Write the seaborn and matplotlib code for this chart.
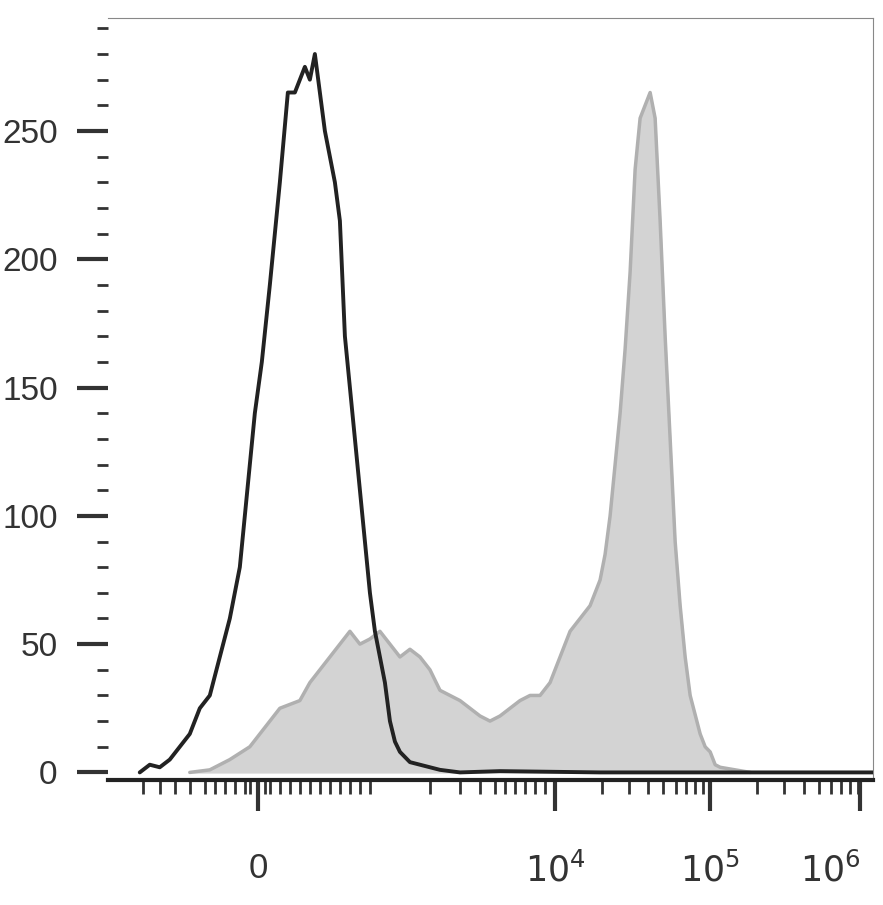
import matplotlib
matplotlib.use("Agg")
import matplotlib.pyplot as plt
import seaborn as sns
import numpy as np
import math

sns.set_style("white")
plt.rcParams['font.family'] = ['Liberation Sans', 'DejaVu Sans']

# x in display channel units (biexponential scale positions)
black_x = [140,150,160,170,180,190,200,210,220,230,240,245,250,255,262,270,275,280,288,295,300,305,310,315,320,325,330,335,340,345,350,355,360,365,370,375,380,385,390,395,400,410,420,430,440,460,500,600,873]
black_y = [0,3,2,5,10,15,25,30,45,60,80,100,120,140,160,190,210,230,265,265,270,275,270,280,265,250,240,230,215,170,150,130,110,90,70,55,45,35,20,12,8,4,3,2,1,0,0.5,0,0]
gray_x = [190,210,230,250,260,270,280,300,310,320,330,340,350,360,370,380,390,400,410,420,430,440,450,460,470,480,490,500,510,520,530,540,550,560,570,580,590,600,605,610,615,620,625,630,635,640,645,650,655,660,665,670,675,680,685,690,700,705,710,715,720,735,750]
gray_y = [0,1,5,10,15,20,25,28,35,40,45,50,55,50,52,55,50,45,48,45,40,32,30,28,25,22,20,22,25,28,30,30,35,45,55,60,65,75,85,100,120,140,165,195,235,255,260,265,255,215,170,130,90,65,45,30,15,10,8,3,2,1,0]

x_major_pos = [258, 555, 710, 860]
x_major_lab = ["0", "$10^4$", "$10^5$", "$10^6$"]
y_major = [0, 50, 100, 150, 200, 250]

fig = plt.figure(figsize=(8.83, 9.05), dpi=100)
ax = fig.add_axes([0.122, 0.138, 0.867, 0.842])

ax.fill_between(gray_x, gray_y, color="#d3d3d3", zorder=1)
sns.lineplot(x=gray_x, y=gray_y, ax=ax, color="#b0b0b0", lw=2.5, zorder=2)
sns.lineplot(x=black_x, y=black_y, ax=ax, color="#222222", lw=2.8, zorder=3)

ax.set_xlim(108, 873)
ax.set_ylim(-3, 294)
for s in ["top", "right"]:
    ax.spines[s].set_color("#888888"); ax.spines[s].set_linewidth(0.8)
ax.spines["left"].set_visible(False)
ax.spines["bottom"].set_color("#222222"); ax.spines["bottom"].set_linewidth(3)

ax.set_yticks(y_major)
ax.set_yticklabels([str(v) for v in y_major], fontsize=24, color="#333333")
ax.set_yticks(np.arange(0, 291, 10), minor=True)
ax.tick_params(axis="y", which="both", left=True)
ax.tick_params(axis="y", which="major", length=22, width=3, color="#333333", direction="out", pad=14)
ax.tick_params(axis="y", which="minor", length=8, width=2, color="#333333", direction="out")

minor_x = [143,160,175,190,205,215,225,235,245,250,265,270,280,290,300,310,320,330,340,350,360,370,
           430,460,480,495,505,515,525,535,545]
for d in (555, 710):
    minor_x += [d + 155*math.log10(k) for k in range(2, 10)]
ax.set_xticks(x_major_pos)
ax.set_xticklabels(x_major_lab, fontsize=25, color="#333333")
ax.get_xticklabels()[-1].set_horizontalalignment("right")
ax.get_xticklabels()[-1].set_x(873)
ax.set_xticks(minor_x, minor=True)
ax.tick_params(axis="x", which="both", bottom=True)
ax.tick_params(axis="x", which="major", length=22, width=3, color="#333333", direction="out", pad=30)
ax.tick_params(axis="x", which="minor", length=10, width=2, color="#333333", direction="out")
ax.set_xlabel(""); ax.set_ylabel("")

fig.savefig("out.png", dpi=100)
